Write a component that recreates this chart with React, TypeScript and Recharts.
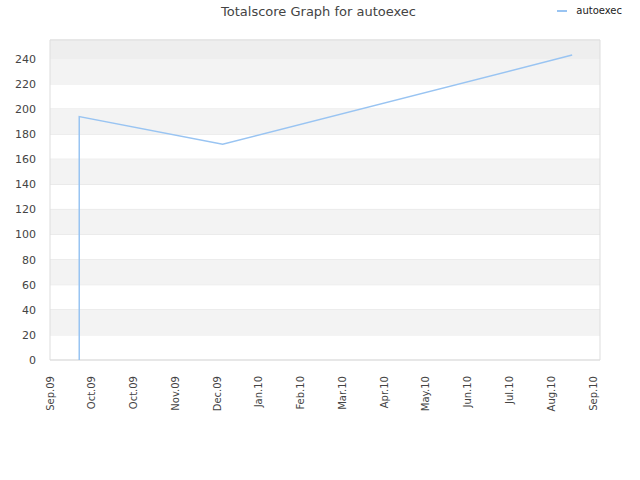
import { LineChart, Line, XAxis, YAxis, CartesianGrid, ReferenceArea } from 'recharts'

// days since Sep 1 2009
const DAYS = [21, 21, 124, 375]
const SCORES = [0, 194, 172, 243]
const X_TICKS = [0, 30, 60, 90, 120, 150, 180, 210, 240, 270, 300, 330, 360, 390]
const X_LABELS = ['Sep.09', 'Oct.09', 'Oct.09', 'Nov.09', 'Dec.09', 'Jan.10', 'Feb.10', 'Mar.10', 'Apr.10', 'May.10', 'Jun.10', 'Jul.10', 'Aug.10', 'Sep.10']
const Y_TICKS = [0, 20, 40, 60, 80, 100, 120, 140, 160, 180, 200, 220, 240]
const Y_MAX = 255

const data = DAYS.map((d, i) => ({ day: d, score: SCORES[i] }))

const FONT = '"DejaVu Sans", sans-serif'

function XTick(props: any) {
  const { x, y, payload } = props
  const label = X_LABELS[X_TICKS.indexOf(payload.value)]
  return (
    <text
      x={x}
      y={y}
      transform={`rotate(-90 ${x} ${y})`}
      textAnchor="end"
      dominantBaseline="central"
      fontSize={10}
      fontFamily={FONT}
      fill="#444"
      dx={-8}
    >
      {label}
    </text>
  )
}

export default function App() {
  return (
    <div style={{ position: 'absolute', left: 0, top: 0, width: 640, height: 480, background: '#fff' }}>
      <div
        style={{
          position: 'absolute',
          top: 4,
          left: 0,
          width: 637,
          textAlign: 'center',
          fontFamily: FONT,
          fontSize: 13,
          color: '#444',
        }}
      >
        Totalscore Graph for autoexec
      </div>
      <div
        style={{
          position: 'absolute',
          top: 5,
          right: 18,
          display: 'flex',
          alignItems: 'center',
          fontFamily: FONT,
          fontSize: 10,
          color: '#222',
        }}
      >
        <span style={{ display: 'inline-block', width: 10, height: 2, background: '#99c4f2', marginRight: 9 }} />
        autoexec
      </div>
      <LineChart width={640} height={480} data={data} margin={{ top: 40, right: 40, left: 0, bottom: 0 }}>
        <ReferenceArea y1={240} y2={Y_MAX} fill="#eeeeee" fillOpacity={1} stroke="none" />
        {Y_TICKS.filter((t, i) => i % 2 === 1 && t + 20 <= 240).map(t => (
          <ReferenceArea key={t} y1={t} y2={t + 20} fill="#f3f3f3" fillOpacity={1} stroke="none" />
        ))}
        <CartesianGrid vertical={false} stroke="#e2e2e2" />
        <XAxis
          dataKey="day"
          type="number"
          domain={[0, 395]}
          ticks={X_TICKS}
          tick={<XTick />}
          axisLine={false}
          tickLine={false}
          height={120}
          interval={0}
        />
        <YAxis
          type="number"
          domain={[0, Y_MAX]}
          ticks={Y_TICKS}
          width={50}
          axisLine={false}
          tickLine={false}
          tick={{ fontSize: 11, fill: '#444', fontFamily: FONT }}
          tickMargin={8}
          interval={0}
        />
        <ReferenceArea x1={0} x2={395} y1={0} y2={Y_MAX} fill="none" stroke="#dddddd" strokeWidth={1} />
        <Line
          dataKey="score"
          type="linear"
          stroke="#99c4f2"
          strokeWidth={1.5}
          dot={false}
          isAnimationActive={false}
        />
      </LineChart>
    </div>
  )
}
